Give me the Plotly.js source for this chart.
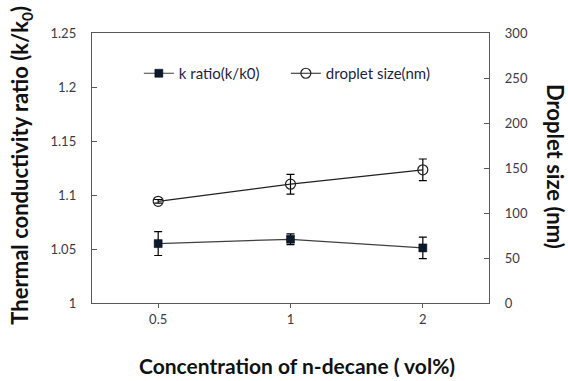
<!DOCTYPE html>
<html><head><meta charset="utf-8">
<script src="https://cdn.plot.ly/plotly-3.0.1.min.js"></script>
<style>html,body{margin:0;padding:0;background:#fff}#chart{width:568px;height:381px}</style>
</head><body><div id="chart"></div>
<script>
const categories = ['0.5', '1', '2'];
const kRatio = [1.055, 1.059, 1.051];
const kRatioErr = [0.011, 0.005, 0.010];
const dropletSize = [113, 132, 148];
const dropletErr = [2, 11, 12];
const yLeftTicks = [1, 1.05, 1.1, 1.15, 1.2, 1.25];
const yRightTicks = [0, 50, 100, 150, 200, 250, 300];

const FONT = 'Lato, "Open Sans", sans-serif';
const AX = '#595959';

const traces = [
  {x: categories, y: kRatio, name: 'k ratio(k/k0)', type: 'scatter', mode: 'lines+markers',
   line: {color: '#404040', width: 1.2},
   marker: {symbol: 'square', size: 8, color: '#0d1a2e', line: {color: '#000', width: 0.5}},
   error_y: {type: 'data', array: kRatioErr, visible: true, color: '#000', thickness: 1.2, width: 4}},
  {x: categories, y: dropletSize, name: 'droplet size(nm)', type: 'scatter', mode: 'lines+markers', yaxis: 'y2',
   line: {color: '#202020', width: 1.2},
   marker: {symbol: 'circle-open', size: 10, color: '#202020', line: {width: 1.2}},
   error_y: {type: 'data', array: dropletErr, visible: true, color: '#000', thickness: 1.2, width: 4}}
];

const layout = {
  width: 568, height: 381,
  margin: {l: 92, r: 79, t: 33, b: 78},
  paper_bgcolor: '#fff', plot_bgcolor: '#fff',
  font: {family: FONT, color: '#404040', size: 13},
  showlegend: true,
  legend: {orientation: 'h', x: 0.118, y: 0.85, xanchor: 'left', yanchor: 'middle',
           font: {size: 15, color: '#1f1f3f'}, bgcolor: 'rgba(0,0,0,0)', itemwidth: 30,
           entrywidth: 102, entrywidthmode: 'pixels'},
  xaxis: {type: 'category', range: [-0.5, 2.5], showline: true, linecolor: AX, linewidth: 1.2,
          mirror: true, ticks: 'outside', ticklen: 4, tickcolor: AX, showgrid: false, zeroline: false,
          tickfont: {size: 13, color: '#3a3a4a'}},
  yaxis: {range: [1, 1.25], tickvals: yLeftTicks, showline: true, linecolor: AX, linewidth: 1.2,
          ticks: 'inside', ticklen: 5, tickcolor: AX, showgrid: false, zeroline: false,
          tickfont: {size: 13, color: '#3a3a4a'}, ticklabelstandoff: 12},
  yaxis2: {range: [0, 300], tickvals: yRightTicks, overlaying: 'y', side: 'right', showline: true,
           linecolor: AX, linewidth: 1.2, ticks: 'inside', ticklen: 5, tickcolor: AX,
           showgrid: false, zeroline: false, tickfont: {size: 13, color: '#3a3a4a'}, ticklabelstandoff: 12},
  annotations: [
    {text: '<b>Thermal conductivity ratio (k/k<sub>0</sub>)</b>', xref: 'paper', yref: 'paper',
     x: -0.178, y: 0.51, xanchor: 'center', yanchor: 'middle', textangle: -90, showarrow: false,
     font: {size: 22, color: '#111'}},
    {text: '<b>Droplet size (nm)</b>', xref: 'paper', yref: 'paper',
     x: 1.168, y: 0.505, xanchor: 'center', yanchor: 'middle', textangle: 90, showarrow: false,
     font: {size: 22, color: '#111'}},
    {text: '<b>Concentration of n-decane ( vol%)</b>', xref: 'paper', yref: 'paper',
     x: 0.517, y: -0.232, xanchor: 'center', yanchor: 'middle', showarrow: false,
     font: {size: 21, color: '#111'}}
  ]
};

Plotly.newPlot('chart', traces, layout, {displayModeBar: false, staticPlot: true});
</script></body></html>
